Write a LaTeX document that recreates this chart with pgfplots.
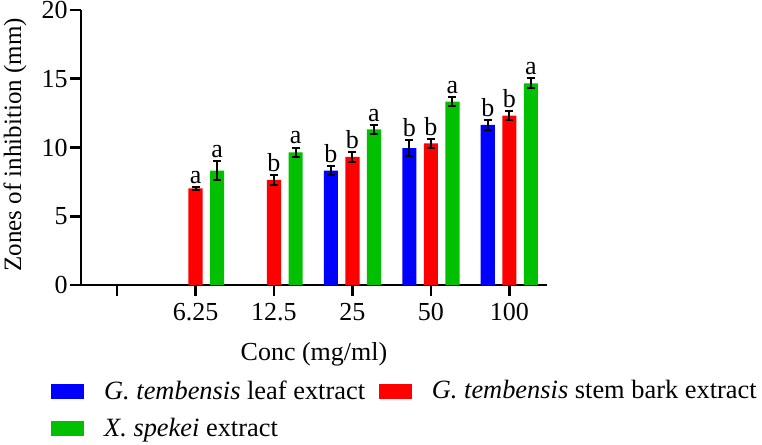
\documentclass[border=0pt]{standalone}
\usepackage{pgfplots}
\usepackage{pgfplotstable}
\pgfplotsset{compat=1.18}
\usepackage{fontspec}
\setmainfont{Liberation Serif}
\definecolor{cblue}{RGB}{0,0,255}
\definecolor{cred}{RGB}{255,0,0}
\definecolor{cgreen}{RGB}{0,192,0}
\newcommand{\fs}{\fontsize{13}{15.6}\selectfont}
\newcommand{\fl}{\fontsize{13.2}{16}\selectfont}

% categories: 0 = (blank), 1 = 6.25, 2 = 12.5, 3 = 25, 4 = 50, 5 = 100 mg/ml
% bars sit at category -0.275 (leaf), 0 (stem bark), +0.275 (X. spekei)
\pgfplotstableread{
x y e
2.725 8.31 0.33
3.725 9.96 0.60
4.725 11.64 0.35
}\leaf
\pgfplotstableread{
x y e
1 7.03 0.10
2 7.64 0.35
3 9.31 0.35
4 10.30 0.33
5 12.31 0.33
}\stem
\pgfplotstableread{
x y e
1.275 8.31 0.70
2.275 9.65 0.35
3.275 11.32 0.33
4.275 13.33 0.33
5.275 14.67 0.35
}\xsp
% letter positions: bar centre, top of error bar
\pgfplotstableread{
x y l
2.725 8.64 b
3.725 10.56 b
4.725 11.99 b
1 7.13 a
2 7.99 b
3 9.66 b
4 10.63 b
5 12.64 b
1.275 9.01 a
2.275 10.00 a
3.275 11.65 a
4.275 13.66 a
5.275 15.02 a
}\letters

\begin{document}
\begin{tikzpicture}
\path[use as bounding box] (-40.5pt,-80pt) rectangle (340.5pt,142.5pt);
\begin{axis}[
  at={(0,0)}, anchor=south west,
  scale only axis, width=233pt, height=137.5pt,
  clip=false,
  xmin=-0.46, xmax=5.48, ymin=0, ymax=20,
  axis lines=left, axis line style={-, line width=1.3pt},
  xtick={0,1,2,3,4,5}, xticklabels={,6.25,12.5,25,50,100},
  ytick={0,5,10,15,20},
  tick align=outside, major tick length=5.5pt,
  every tick/.style={black, line width=1.3pt},
  tick label style={font=\fs},
  yticklabel style={inner sep=1pt},
  /pgf/number format/assume math mode=true,
  xlabel={Conc (mg/ml)},
  ylabel={Zones of inhibition (mm)},
  xlabel style={font=\fs, at={(axis description cs:0.5,-0.251)}, anchor=center},
  ylabel style={font=\fontsize{12.5}{15}\selectfont, at={(axis description cs:-0.1416,0.51)}, anchor=center},
  legend columns=2,
  legend cell align=left,
  legend style={draw=none, fill=none, font=\fl,
    at={(axis description cs:-0.0773,-0.331)}, anchor=north west,
    nodes={inner sep=0pt},
    row sep=8pt,
    /tikz/every odd column/.append style={column sep=10pt},
    /tikz/column 2/.style={column sep=7pt}},
]
\addplot[ybar, bar width=0.18, bar shift=0, fill=cblue, draw=none, forget plot,
  error bars/.cd, y dir=both, y explicit,
  error bar style={draw=black, line width=1pt},
  error mark options={draw=black, line width=1pt, mark size=2pt, rotate=90}]
  table[x=x, y=y, y error=e]{\leaf};
\addplot[ybar, bar width=0.18, bar shift=0, fill=cred, draw=none, forget plot,
  error bars/.cd, y dir=both, y explicit,
  error bar style={draw=black, line width=1pt},
  error mark options={draw=black, line width=1pt, mark size=2pt, rotate=90}]
  table[x=x, y=y, y error=e]{\stem};
\addplot[ybar, bar width=0.18, bar shift=0, fill=cgreen, draw=none, forget plot,
  error bars/.cd, y dir=both, y explicit,
  error bar style={draw=black, line width=1pt},
  error mark options={draw=black, line width=1pt, mark size=2pt, rotate=90}]
  table[x=x, y=y, y error=e]{\xsp};
\addplot[forget plot, draw=none, mark=none, nodes near coords, point meta=explicit symbolic,
  every node near coord/.append style={anchor=south, font=\fs, inner sep=1.5pt, black}]
  table[x=x, y=y, meta=l]{\letters};
\addlegendimage{legend image code/.code={\fill[cblue] (0pt,-3.5pt) rectangle (16pt,3.5pt);}}
\addlegendentry{\textit{G. tembensis} leaf extract}
\addlegendimage{legend image code/.code={\fill[cred] (0pt,-3.5pt) rectangle (16pt,3.5pt);}}
\addlegendentry{\textit{G. tembensis} stem bark extract}
\addlegendimage{legend image code/.code={\fill[cgreen] (0pt,-3.5pt) rectangle (16pt,3.5pt);}}
\addlegendentry{\textit{X. spekei} extract}
\end{axis}
\end{tikzpicture}
\end{document}
